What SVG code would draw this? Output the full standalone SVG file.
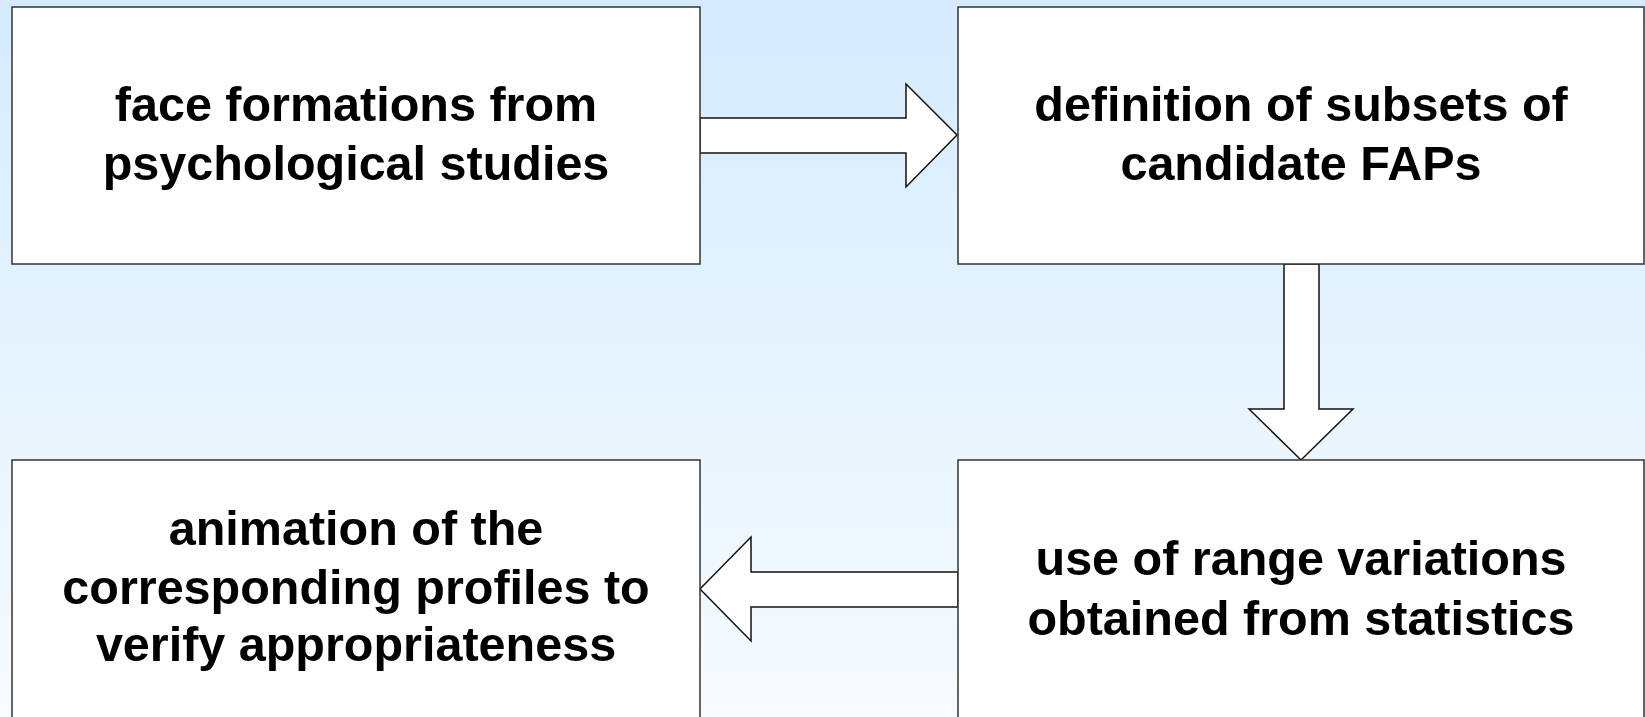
<svg xmlns="http://www.w3.org/2000/svg" width="1645" height="717" viewBox="0 0 1645 717">
<defs>
<linearGradient id="bg" x1="0" y1="0" x2="0" y2="1">
<stop offset="0" stop-color="#d5ebfd"/>
<stop offset="1" stop-color="#f6fbff"/>
</linearGradient>
<style>
.box{fill:#ffffff;stroke:#333333;stroke-width:1.5}
.arr{fill:#ffffff;stroke:#111111;stroke-width:1.5;stroke-linejoin:miter}
.t{font-family:"Liberation Sans",Arial,sans-serif;font-weight:bold;font-size:48.5px;fill:#000000;text-anchor:middle}
</style>
</defs>
<rect x="0" y="0" width="1645" height="717" fill="url(#bg)"/>
<g id="connectors">
<polygon class="arr" points="700,118 906,118 906,84 957,135 906,187 906,153 700,153"/>
<polygon class="arr" points="1284,264 1319,264 1319,409 1353,409 1301,460 1249,409 1284,409"/>
<polygon class="arr" points="958,572 751,572 751,537 700,589 751,641 751,607 958,607"/>
</g>
<g id="node1">
<rect class="box" x="12" y="7" width="688" height="257"/>
<text class="t" x="356" y="121">face formations from</text>
<text class="t" x="356" y="180">psychological studies</text>
</g>
<g id="node2">
<rect class="box" x="958" y="7" width="686" height="257"/>
<text class="t" x="1301" y="121">definition of subsets of</text>
<text class="t" x="1301" y="180">candidate FAPs</text>
</g>
<g id="node3">
<rect class="box" x="958" y="460" width="686" height="300"/>
<text class="t" x="1301" y="575">use of range variations</text>
<text class="t" x="1301" y="635">obtained from statistics</text>
</g>
<g id="node4">
<rect class="box" x="12" y="460" width="688" height="300"/>
<text class="t" x="356" y="545">animation of the</text>
<text class="t" x="356" y="604">corresponding profiles to</text>
<text class="t" x="356" y="661">verify appropriateness</text>
</g>
</svg>
